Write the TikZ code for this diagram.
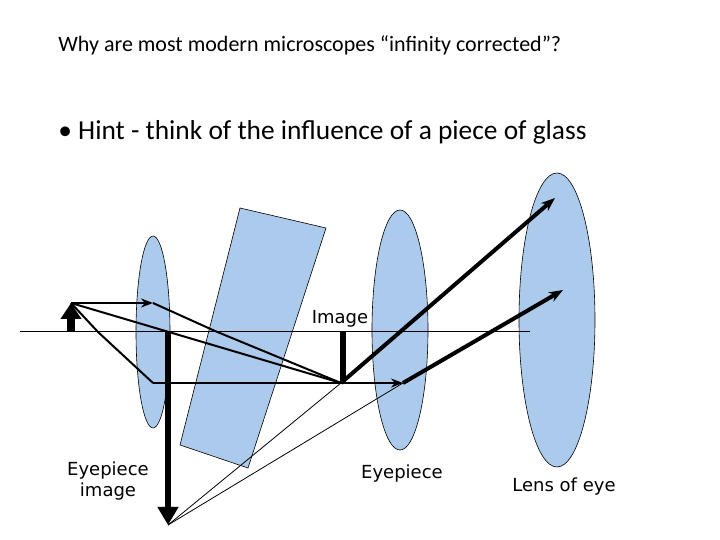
\documentclass[tikz,border=0pt]{standalone}
\usepackage{fontspec}
\setmainfont{Carlito}
\newfontfamily\lab{DejaVu Sans}
\usetikzlibrary{shapes.geometric,arrows.meta}
\begin{document}
\begin{tikzpicture}[x=0.5pt,y=-0.5pt,
  lens/.style={fill=lensblue,draw=black,line width=0.3pt},
  ray/.style={draw=black,line width=1pt},
  thick ray/.style={draw=black,line width=2pt,-{Stealth[length=7pt]}},
  lbl/.style={font=\lab\fontsize{9}{10.5}\selectfont,align=center}]
\definecolor{lensblue}{RGB}{172,202,235}
\useasboundingbox (0,0) rectangle (720,540);
\node[anchor=west,inner sep=0pt] (title) at (58,45) {\fontsize{11}{13}\selectfont Why are most modern microscopes “infinity corrected”?};
\node[anchor=west,inner sep=0pt] (hint) at (58,132) {\fontsize{13.7}{16}\selectfont • Hint - think of the influence of a piece of glass};
\node[lens,ellipse,minimum width=17pt,minimum height=96pt,inner sep=0pt] (L1) at (153,332) {};
\draw[lens] (240,208) -- (326,228) -- (248,468) -- (180,445) -- cycle;
\node[lens,ellipse,minimum width=28pt,minimum height=120pt,inner sep=0pt] (L2) at (400,330) {};
\node[lens,ellipse,minimum width=38pt,minimum height=147pt,inner sep=0pt] (L3) at (557,320) {};
\draw[line width=0.5pt] (20,332) -- (530,332);
\coordinate (ot) at (71,303);
\coordinate (ob) at (71,332);
\coordinate (im) at (341,383);
\coordinate (p1) at (153,303);
\coordinate (p2) at (153,383);
\coordinate (p3) at (403,383);
\coordinate (eb) at (168,525);
\draw[line width=4pt,-{Triangle[length=8pt,width=10pt]}] (ob) -- (ot);
\draw[ray,-{Stealth[length=6pt]}] (ot) -- (p1);
\draw[ray] (p1) -- (215,331) -- (im);
\draw[ray] (ot) -- (98,332) -- (p2);
\draw[ray] (ot) -- (im);
\draw[ray] (p2) -- (im);
\draw[line width=3pt] (343,332) -- (343,383);
\draw[line width=3pt,-{Triangle[length=9pt,width=10pt]}] (168,332) -- (eb);
\draw[line width=0.4pt] (eb) -- (im);
\draw[line width=0.4pt] (eb) -- (p3);
\draw[ray,-{Stealth[length=6pt]}] (im) -- (p3);
\draw[thick ray] (p3) -- (563,290);
\draw[thick ray] (im) -- (555,198);
\node[lbl] (imgl) at (340,319) {Image};
\node[lbl] (eil) at (108,481) {Eyepiece\\image};
\node[lbl] (el) at (402,474) {Eyepiece};
\node[lbl] (le) at (564,487) {Lens of eye};
\end{tikzpicture}
\end{document}
